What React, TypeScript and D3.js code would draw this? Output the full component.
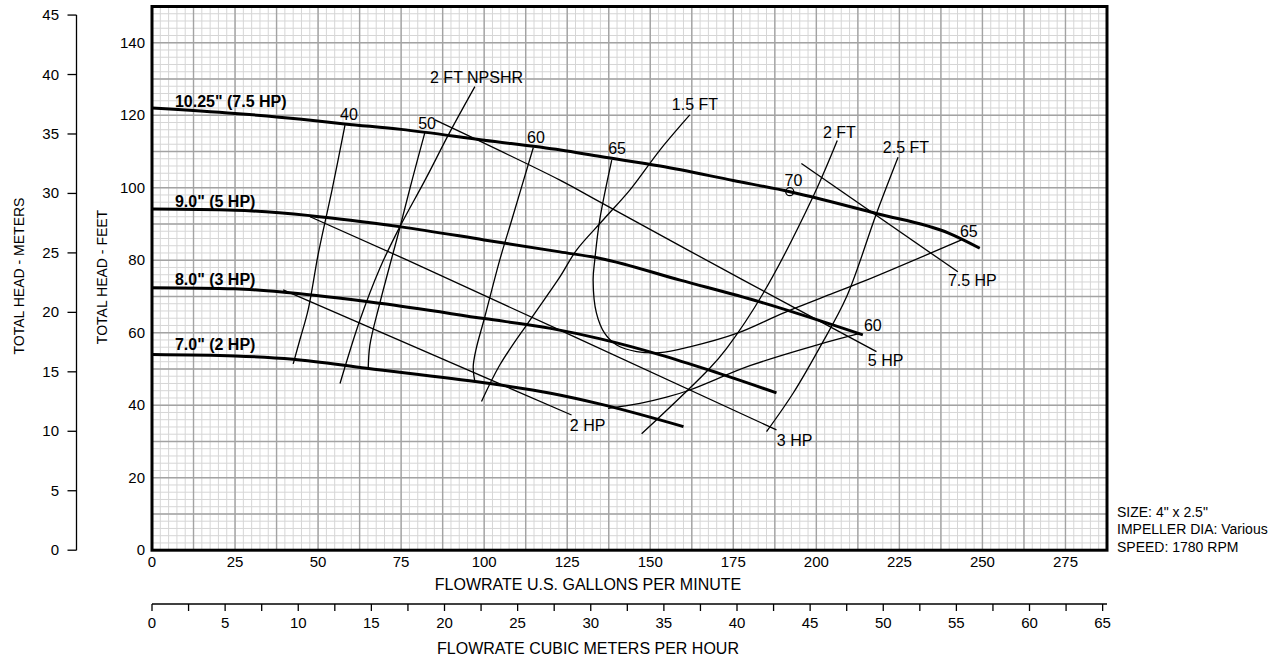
import React from "react";
import * as d3 from "d3";

// ---- tick values ----
const gpmTicks = [0, 25, 50, 75, 100, 125, 150, 175, 200, 225, 250, 275];
const feetTicks = [0, 20, 40, 60, 80, 100, 120, 140];
const meterTicks = [0, 5, 10, 15, 20, 25, 30, 35, 40, 45];
const m3hLabelTicks = [0, 5, 10, 15, 20, 25, 30, 35, 40, 45, 50, 55, 60, 65];
const m3hMinorTicks = [2.5, 7.5, 12.5, 17.5, 22.5, 27.5, 32.5, 37.5, 42.5, 47.5, 52.5, 57.5, 62.5];

// ---- head curves (gpm, ft) ----
const head1025: [number, number][] = [[0, 122.0], [25, 120.5], [45, 118.9], [58, 117.6], [75, 116.1], [100, 113.1], [123, 110.4], [135, 108.6], [153, 106.0], [175, 102.0], [192, 98.9], [218, 92.9], [240, 87.4], [249.2, 83.3]];
const head90: [number, number][] = [[0, 94.1], [25, 93.8], [47.6, 92.3], [75, 89.2], [100, 85.6], [122.8, 82.3], [135, 80.5], [159, 74.5], [183, 68.5], [214, 59.4]];
const head80: [number, number][] = [[0, 72.4], [25, 72.1], [41.5, 71.0], [68.6, 68.1], [100, 63.9], [120, 61.2], [135, 58.3], [153, 53.9], [168, 49.6], [188, 43.4]];
const head70: [number, number][] = [[0, 54.0], [25, 53.6], [42.5, 52.7], [64.6, 50.2], [100, 46.2], [120, 43.3], [135, 40.3], [160, 34.1]];

// ---- efficiency contours ----
const eff40: [number, number][] = [[58.1, 117.3], [54.2, 99.4], [50.1, 82.0], [47.0, 66.3], [44.5, 58.0], [42.5, 51.4]];
const eff50: [number, number][] = [[82.2, 115.4], [78.3, 102.1], [74.6, 88.9], [68.6, 68.2], [65.6, 56.6], [65.1, 50.2]];
const eff60Left: [number, number][] = [[114.8, 111.1], [108.3, 91.1], [104.7, 80.1], [100.2, 64.4], [97.5, 55.2], [96.7, 50.6], [97.2, 46.5]];
const eff65: [number, number][] = [[138.4, 107.6], [134.8, 91.2], [133.3, 80.1], [132.8, 74.5], [133.8, 65.4], [136.3, 59.8], [139.9, 56.6], [145.9, 54.8], [152.9, 54.5], [161.9, 56.1], [176.0, 59.8], [190.0, 65.4], [205.1, 70.9], [215.1, 74.5], [243.7, 85.6]];
const eff60Right: [number, number][] = [[137.3, 39.1], [146.9, 40.5], [154.9, 42.2], [161.9, 44.2], [180.0, 50.9], [200.1, 56.6], [213.1, 59.8]];

// ---- NPSHR curves ----
const npshr20Left: [number, number][] = [[97.2, 127.9], [89.7, 115.4], [82.2, 102.1], [74.6, 89.2], [68.6, 77.8], [62.6, 63.5], [56.6, 46.0]];
const npshr15: [number, number][] = [[161.9, 120.1], [152.9, 110.4], [143.9, 99.4], [135.8, 91.1], [127.8, 82.8], [122.8, 75.4], [113.8, 63.5], [104.7, 51.1], [99.2, 41.0]];
const npshr20: [number, number][] = [[206.3, 113.0], [199.0, 97.5], [184.0, 70.9], [173.0, 55.7], [167.9, 50.2], [147.4, 32.1]];
const npshr25: [number, number][] = [[224.6, 108.4], [218.1, 92.9], [209.1, 69.9], [201.0, 55.9], [193.0, 43.3], [185.0, 32.7]];

// ---- power lines ----
const hp75: [number, number][] = [[195.5, 106.7], [242.6, 76.8]];
const hp5: [number, number][] = [[85.2, 118.7], [122.8, 102.1], [134.8, 96.1], [178.0, 74.5], [218.1, 54.8]];
const hp3: [number, number][] = [[47.6, 92.0], [76.7, 80.1], [122.8, 60.7], [188.0, 33.2]];
const hp2: [number, number][] = [[39.5, 71.8], [126.3, 37.3]];

const bep: [number, number] = [192, 98.9];

// ---- labels: text, gpm, ft, anchor, bold ----
const curveLabels: [string, number, number, string, boolean][] = [
  ['10.25" (7.5 HP)', 6.9, 122.3, "start", true],
  ['9.0" (5 HP)', 6.9, 94.8, "start", true],
  ['8.0" (3 HP)', 6.9, 73.2, "start", true],
  ['7.0" (2 HP)', 6.9, 55.2, "start", true],
  ["40", 59.3, 118.7, "middle", false],
  ["50", 82.8, 116.2, "middle", false],
  ["60", 115.6, 112.3, "middle", false],
  ["65", 140.0, 109.3, "middle", false],
  ["70", 193.1, 100.5, "middle", false],
  ["65", 245.9, 86.4, "middle", false],
  ["60", 217.0, 60.5, "middle", false],
  ["7.5 HP", 239.6, 72.9, "start", false],
  ["5 HP", 215.5, 50.8, "start", false],
  ["3 HP", 188.1, 28.7, "start", false],
  ["2 HP", 125.8, 32.9, "start", false],
  ["1.5 FT", 156.5, 121.4, "start", false],
  ["2 FT", 202.0, 113.7, "start", false],
  ["2.5 FT", 220.0, 109.6, "start", false],
  ["2 FT NPSHR", 83.7, 128.9, "start", false],
];

const infoLines = ['SIZE: 4" x 2.5"', "IMPELLER DIA: Various", "SPEED: 1780 RPM"];

const GPM_PER_M3H = 4.402868;
const FT_PER_M = 3.28084;

export default function App() {
  const W = 1281, H = 658;
  const left = 152, right = 1107, top = 6.5, bottom = 550.2;
  const xMax = 287.5, yMax = 150;
  const x = d3.scaleLinear().domain([0, xMax]).range([left, right]);
  const y = d3.scaleLinear().domain([0, yMax]).range([bottom, top]);
  const xm = d3.scaleLinear().domain([0, xMax / GPM_PER_M3H]).range([left, right]);
  const ym = d3.scaleLinear().domain([0, yMax / FT_PER_M]).range([bottom, top]);

  const smooth = d3.line<[number, number]>().x(d => x(d[0])).y(d => y(d[1])).curve(d3.curveCatmullRom.alpha(0.5));
  const straight = d3.line<[number, number]>().x(d => x(d[0])).y(d => y(d[1]));
  const headLine = d3.line<[number, number]>().x(p => x(p[0])).y(p => y(p[1])).curve(d3.curveMonotoneX);

  const minorX = d3.range(0, xMax + 0.01, 2.5);
  const minorY = d3.range(0, yMax + 0.01, 2);
  const majorX = d3.range(0, xMax + 0.01, 12.5);
  const majorY = d3.range(0, yMax + 0.01, 10);

  const font = "'Liberation Sans', Arial, Helvetica, sans-serif";
  const thin = { fill: "none", stroke: "#000", strokeWidth: 1.3 };
  const thick = { fill: "none", stroke: "#000", strokeWidth: 3 };
  const meterAxisX = 76.5;
  const m3hAxisY = 604;

  return (
    <svg width={W} height={H} style={{ position: "absolute", left: 0, top: 0, background: "#fff" }} fontFamily={font}>
      <rect x={0} y={0} width={W} height={H} fill="#fff" />
      {/* grid */}
      <g>
        {minorX.map(v => <line key={"mx" + v} x1={x(v)} x2={x(v)} y1={top} y2={bottom} stroke="#d6d6d6" strokeWidth={1} />)}
        {minorY.map(v => <line key={"my" + v} x1={left} x2={right} y1={y(v)} y2={y(v)} stroke="#d6d6d6" strokeWidth={1} />)}
        {majorX.map(v => <line key={"Mx" + v} x1={x(v)} x2={x(v)} y1={top} y2={bottom} stroke="#a3a3a3" strokeWidth={1.4} />)}
        {majorY.map(v => <line key={"My" + v} x1={left} x2={right} y1={y(v)} y2={y(v)} stroke="#a3a3a3" strokeWidth={1.4} />)}
      </g>
      {/* thin curves */}
      <g>
        {[eff40, eff50, eff60Left, eff65, eff60Right, npshr20Left, npshr15, npshr20, npshr25, hp5].map((d, i) => (
          <path key={"t" + i} d={smooth(d) || ""} {...thin} />
        ))}
        {[hp75, hp3, hp2].map((d, i) => (
          <path key={"s" + i} d={straight(d) || ""} {...thin} />
        ))}
        <circle cx={x(bep[0])} cy={y(bep[1])} r={4} fill="none" stroke="#000" strokeWidth={1.3} />
      </g>
      {/* head curves */}
      <g>
        {[head1025, head90, head80, head70].map((d, i) => (
          <path key={"h" + i} d={headLine(d) || ""} {...thick} />
        ))}
      </g>
      {/* frame */}
      <rect x={left} y={top} width={right - left} height={bottom - top} fill="none" stroke="#000" strokeWidth={3} />
      {/* labels */}
      <g fontSize={16} fill="#000">
        {curveLabels.map(([t, gx, fy, anchor, bold], i) => (
          <text key={"l" + i} x={x(gx)} y={y(fy)} textAnchor={anchor as any} fontWeight={bold ? "bold" : "normal"}>{t}</text>
        ))}
      </g>
      {/* feet axis labels */}
      <g fontSize={15} textAnchor="end">
        {feetTicks.map(v => <text key={"f" + v} x={145} y={y(v) + 5}>{v}</text>)}
      </g>
      {/* meters axis */}
      <g fontSize={15}>
        <line x1={meterAxisX} x2={meterAxisX} y1={ym(45)} y2={ym(0)} stroke="#000" strokeWidth={1.3} />
        {meterTicks.map(v => (
          <g key={"m" + v}>
            <line x1={meterAxisX - 9} x2={meterAxisX} y1={ym(v)} y2={ym(v)} stroke="#000" strokeWidth={1.3} />
            <text x={59} y={ym(v) + 5} textAnchor="end">{v}</text>
          </g>
        ))}
      </g>
      {/* gpm axis labels */}
      <g fontSize={15} textAnchor="middle">
        {gpmTicks.map(v => <text key={"g" + v} x={x(v)} y={567}>{v}</text>)}
        <text x={588} y={590} fontSize={16}>FLOWRATE U.S. GALLONS PER MINUTE</text>
      </g>
      {/* m3/h axis */}
      <g fontSize={15} textAnchor="middle">
        <line x1={left} x2={right} y1={m3hAxisY} y2={m3hAxisY} stroke="#000" strokeWidth={1.3} />
        {m3hLabelTicks.map(v => (
          <g key={"c" + v}>
            <line x1={xm(v)} x2={xm(v)} y1={m3hAxisY} y2={m3hAxisY + 7} stroke="#000" strokeWidth={1.3} />
            <text x={xm(v)} y={628}>{v}</text>
          </g>
        ))}
        {m3hMinorTicks.map(v => (
          <line key={"cm" + v} x1={xm(v)} x2={xm(v)} y1={m3hAxisY} y2={m3hAxisY + 7} stroke="#000" strokeWidth={1.3} />
        ))}
        <text x={588} y={654} fontSize={16}>FLOWRATE CUBIC METERS PER HOUR</text>
      </g>
      {/* axis titles */}
      <g fontSize={14} textAnchor="middle">
        <text transform={`translate(24, 276) rotate(-90)`}>TOTAL HEAD - METERS</text>
        <text transform={`translate(107, 277) rotate(-90)`}>TOTAL HEAD - FEET</text>
      </g>
      {/* info */}
      <g fontSize={14}>
        {infoLines.map((t, i) => <text key={"i" + i} x={1117} y={517 + i * 17.3}>{t}</text>)}
      </g>
    </svg>
  );
}
